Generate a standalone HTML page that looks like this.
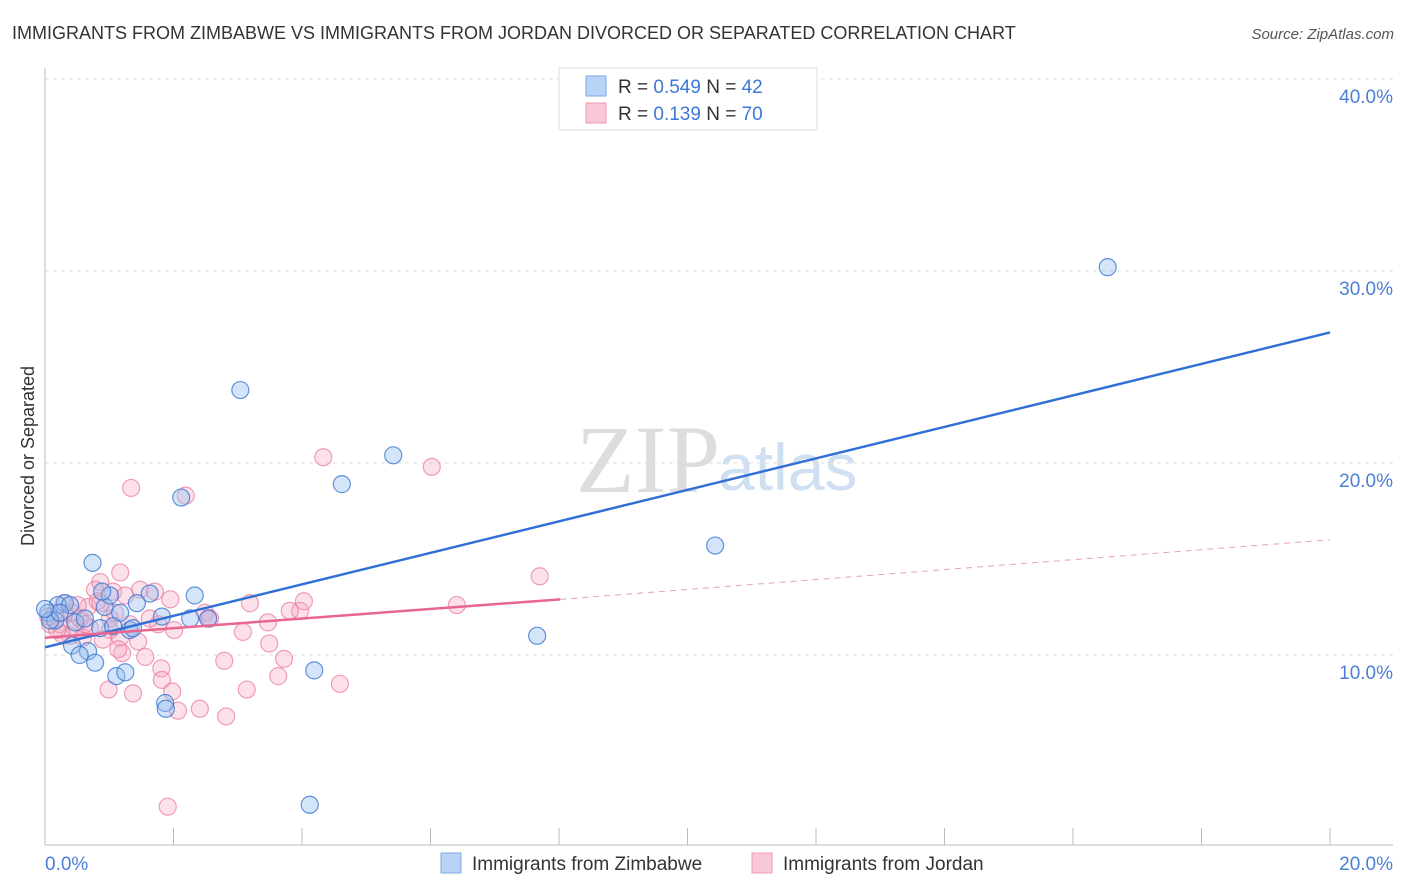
<!DOCTYPE html>
<html><head><meta charset="utf-8"><style>
body{margin:0;background:#fff;font-family:"Liberation Sans",sans-serif;}
svg{display:block}
</style></head><body>
<svg width="1406" height="892">
<text x="12" y="39" font-size="18" fill="#333">IMMIGRANTS FROM ZIMBABWE VS IMMIGRANTS FROM JORDAN DIVORCED OR SEPARATED CORRELATION CHART</text>
<text x="1394" y="39" font-size="15" fill="#555" font-style="italic" text-anchor="end">Source: ZipAtlas.com</text>
<text x="720" y="492" font-size="96" fill="#ddd" font-family="Liberation Serif,serif" text-anchor="end">ZIP</text>
<text x="718" y="490" font-size="66" fill="#cfe0f3">atlas</text>
<g id="grid"></g>
<line x1="45" y1="68" x2="45" y2="845" stroke="#bbb"/>
<line x1="45" y1="845" x2="1393" y2="845" stroke="#bbb"/>
<text x="34" y="456" font-size="18" fill="#333" transform="rotate(-90 34 456)" text-anchor="middle">Divorced or Separated</text>
<text x="45" y="870" font-size="19" fill="#4a7fd4">0.0%</text>
<text x="1393" y="870" font-size="19" fill="#4a7fd4" text-anchor="end">20.0%</text>
<g id="pts"></g>
<g id="lines"></g>
<g>
<rect x="559" y="68" width="258" height="62" fill="#fff" stroke="#ddd"/>
<rect x="586" y="76" width="20" height="20" fill="#b8d3f5" stroke="#7aa7e6"/>
<rect x="586" y="103" width="20" height="20" fill="#f9c8d7" stroke="#ee9ab4"/>
<text x="618" y="93" font-size="19" fill="#333">R = <tspan fill="#3b78d8">0.549</tspan>   N = <tspan fill="#3b78d8">42</tspan></text>
<text x="618" y="120" font-size="19" fill="#333">R =  <tspan fill="#3b78d8">0.139</tspan>   N = <tspan fill="#3b78d8">70</tspan></text>
</g>
<g>
<rect x="441" y="853" width="20" height="20" fill="#b8d3f5" stroke="#7aa7e6"/>
<text x="472" y="870" font-size="19" fill="#333">Immigrants from Zimbabwe</text>
<rect x="752" y="853" width="20" height="20" fill="#f9c8d7" stroke="#ee9ab4"/>
<text x="783" y="870" font-size="19" fill="#333">Immigrants from Jordan</text>
</g>
</svg>
<script>
const yTicks=[10,20,30,40];
const zimX=[3.04,2.12,0.74,2.33,1.63,1.43,0.93,1.17,0.31,0.2,0.39,0.05,0.16,0.47,0.86,1.32,1.37,1.82,2.26,2.54,0.42,0.67,0.54,0.78,1.11,1.25,1.87,1.88,4.19,4.12,4.62,5.42,7.66,10.43,16.54,0.08,0.23,1.01,0.89,0.62,1.06,0.0];
const zimY=[23.8,18.2,14.8,13.1,13.2,12.7,12.5,12.2,12.7,12.6,12.6,12.2,11.8,11.7,11.4,11.3,11.4,12.0,11.9,11.9,10.5,10.2,10.0,9.6,8.9,9.1,7.5,7.2,9.2,2.2,18.9,20.4,11.0,15.7,30.2,11.8,12.2,13.1,13.3,11.9,11.5,12.4];
const jorX=[1.34,2.19,4.33,6.02,7.7,6.41,1.17,0.86,0.78,1.06,1.48,1.71,1.95,1.25,2.49,2.54,3.19,3.97,4.03,3.47,3.08,3.49,2.01,1.76,1.32,1.01,0.7,0.47,0.23,0.16,0.31,0.42,0.54,0.67,0.86,1.01,1.17,1.45,0.9,0.59,0.39,0.08,0.26,1.56,1.81,1.82,1.98,2.07,2.41,2.82,0.99,1.37,3.14,3.63,3.72,2.79,4.59,1.91,1.2,0.82,0.3,0.51,0.05,0.19,0.62,1.09,1.63,2.57,3.81,1.14];
const jorY=[18.7,18.3,20.3,19.8,14.1,12.6,14.3,13.8,13.4,13.3,13.4,13.3,12.9,13.1,12.2,11.9,12.7,12.3,12.8,11.7,11.2,10.6,11.3,11.6,11.6,11.3,11.4,11.4,11.6,12.2,12.2,12.2,11.9,12.5,12.7,11.9,10.9,10.7,10.8,10.9,11.0,11.6,11.1,9.9,9.3,8.7,8.1,7.1,7.2,6.8,8.2,8.0,8.2,8.9,9.8,9.7,8.5,2.1,10.1,12.8,12.7,12.6,12.0,11.3,11.6,12.2,11.9,11.9,12.3,10.3];
const zimLine=[0,10.4,20,26.8];
const jorLine=[0,10.9,8.02,12.9,20,16.0];
const X=v=>45+v/20*1285, Y=v=>847-v/10*192;
const NS='http://www.w3.org/2000/svg';
const grid=document.getElementById('grid');
yTicks.forEach(t=>{
 const l=document.createElementNS(NS,'line');
 l.setAttribute('x1',45);l.setAttribute('x2',1393);l.setAttribute('y1',Y(t));l.setAttribute('y2',Y(t));
 l.setAttribute('stroke','#ddd');l.setAttribute('stroke-dasharray','4 4');
 
 
 grid.appendChild(l);
 const tx=document.createElementNS(NS,'text');
 tx.setAttribute('x',1393);tx.setAttribute('y',Y(t)+24);tx.setAttribute('text-anchor','end');
 tx.setAttribute('font-size','19');tx.setAttribute('fill','#4a7fd4');tx.textContent=t.toFixed(1)+'%';
 
 
 grid.appendChild(tx);
});
for(let i=0;i<=10;i++){
 const l=document.createElementNS(NS,'line');
 l.setAttribute('x1',X(i*2));l.setAttribute('x2',X(i*2));l.setAttribute('y1',828);l.setAttribute('y2',845);
 l.setAttribute('stroke','#bbb');
 
 
 grid.appendChild(l);
}
const pts=document.getElementById('pts');
function dots(xs,ys,fill,stroke,name){
 xs.forEach((x,i)=>{
  const c=document.createElementNS(NS,'circle');
  c.setAttribute('cx',X(x));c.setAttribute('cy',Y(ys[i]));c.setAttribute('r',8.5);
  c.setAttribute('fill',fill);c.setAttribute('stroke',stroke);c.setAttribute('stroke-width','1.2');
  
  
  pts.appendChild(c);
 });
}
dots(jorX,jorY,'rgba(246,170,195,0.35)','rgba(232,120,155,0.7)','jordan-point');
dots(zimX,zimY,'rgba(150,190,240,0.4)','rgba(60,120,210,0.8)','zimbabwe-point');
const lines=document.getElementById('lines');
function ln(x1,y1,x2,y2,col,w,dash,name){
 const l=document.createElementNS(NS,'line');
 l.setAttribute('x1',X(x1));l.setAttribute('y1',Y(y1));l.setAttribute('x2',X(x2));l.setAttribute('y2',Y(y2));
 l.setAttribute('stroke',col);l.setAttribute('stroke-width',w);if(dash)l.setAttribute('stroke-dasharray',dash);
 
 
 lines.appendChild(l);
}
ln(zimLine[0],zimLine[1],zimLine[2],zimLine[3],'#2f6fd6',2.5,null,'zimbabwe-trendline');
ln(jorLine[0],jorLine[1],jorLine[2],jorLine[3],'#e8668f',2.5,null,'jordan-trendline');
ln(jorLine[2],jorLine[3],jorLine[4],jorLine[5],'#e8a0b8',1,'6 5','jordan-trendline-extension');
</script>
</body></html>
